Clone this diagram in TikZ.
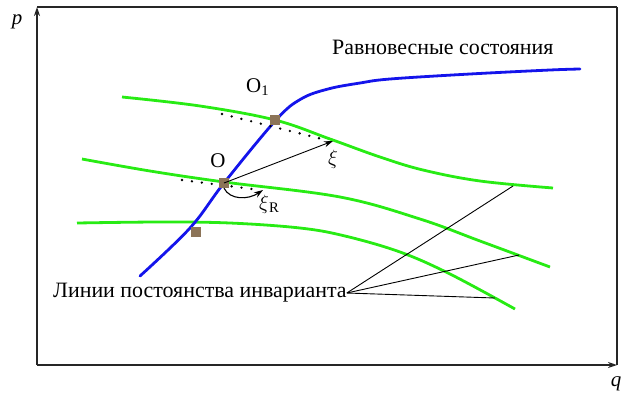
\documentclass[tikz,border=0pt]{standalone}
\usepackage{fontspec}
\setmainfont{Liberation Serif}
\usetikzlibrary{arrows.meta}
\definecolor{eqblue}{RGB}{20,20,235}
\definecolor{invgreen}{RGB}{40,235,20}
\definecolor{ptbrown}{RGB}{140,116,88}
\tikzset{
  frameline/.style={line width=1.3bp, black!85},
  eqline/.style={line width=2.8bp, eqblue, line cap=round},
  invline/.style={line width=2.8bp, invgreen},
  pointbox/.style={fill=ptbrown, minimum size=10bp, inner sep=0pt, draw=none},
  tangent/.style={line width=2.6bp, line cap=round, dash pattern=on 0bp off 10bp},
  pointer/.style={line width=0.9bp},
  lbl/.style={font=\fontsize{21}{24}\selectfont, inner sep=0pt},
  biglbl/.style={font=\fontsize{22}{25}\selectfont, inner sep=0pt},
}
\begin{document}
\begin{tikzpicture}[x=1bp,y=-1bp]
\useasboundingbox (0,0) rectangle (628,403);
% frame
\coordinate (TL) at (37,7);
\coordinate (TR) at (617,7);
\coordinate (BR) at (617,365);
\coordinate (BL) at (37,365);
\draw[frameline] (TR) -- (TL);
\draw[frameline] (TR) -- (BR);
\draw[frameline,-{Stealth[length=9bp,width=6bp]}] (BL) -- (TL);
\draw[frameline,-{Stealth[length=9bp,width=6bp]}] (BL) -- (BR);
\node[lbl,font=\fontsize{21}{24}\selectfont\itshape] (p) at (17,22) {p};
\node[lbl,font=\fontsize{21}{24}\selectfont\itshape] (q) at (616,384) {q};
% green lines
\draw[invline] plot[smooth,tension=0.6] coordinates {(122,97) (200,106) (275,120) (330,139) (380,157) (423,170) (480,181) (553,188)};
\draw[invline] plot[smooth,tension=0.6] coordinates {(82,159) (150,171) (224,182) (340,197) (420,219) (480,241) (550,267)};
\draw[invline] plot[smooth,tension=0.6] coordinates {(77,223) (160,222) (230,223) (300,228) (345,236) (400,252) (450,274) (515,309)};
% blue line
\draw[eqline] plot[smooth,tension=0.6] coordinates {(140,276) (190,228) (224,183) (276,120) (301,99) (328,89) (360,83) (390,79) (470,74) (550,70) (580,69)};
% tangents
\coordinate (t1a) at (222,114);
\coordinate (t1b) at (322,139);
\coordinate (t2a) at (182,180);
\coordinate (t2b) at (252,189);
\draw[tangent] (t1a) -- (t1b);
\draw[tangent] (t2a) -- (t2b);
% points
\node[pointbox] (O1) at (275,120) {};
\node[pointbox] (O) at (224,183) {};
\node[pointbox] (P3) at (196,232) {};
% labels
\node[lbl,anchor=west] (O1lbl) at (246,87) {O\textsubscript{1}};
\node[lbl] (Olbl) at (218,161) {O};
% vector xi
\coordinate (xiend) at (333,141);
\draw[pointer,-{Stealth[length=9bp,width=6bp]}] (O.center) -- (xiend);
\node[lbl] (xilbl) at (333,159) {$\xi$};
% xi_R arc
\coordinate (xiRend) at (263,190);
\draw[line width=1.1bp,-{Stealth[length=9bp,width=6bp]}] (O.south) .. controls (230,200) and (248,200) .. (xiRend);
\node[lbl,anchor=west] (xiRlbl) at (259,204) {$\xi$\textsubscript{R}};
% texts
\node[biglbl,anchor=west] (eq) at (332,47) {Равновесные состояния};
\node[biglbl,anchor=west] (inv) at (53,293) {Линии постоянства инварианта};
\coordinate (c1) at (513,186);
\coordinate (c2) at (519,255);
\coordinate (c3) at (495,298);
\draw[pointer] (inv.east) -- (c1);
\draw[pointer] (inv.east) -- (c2);
\draw[pointer] (inv.east) -- (c3);
\end{tikzpicture}
\end{document}
